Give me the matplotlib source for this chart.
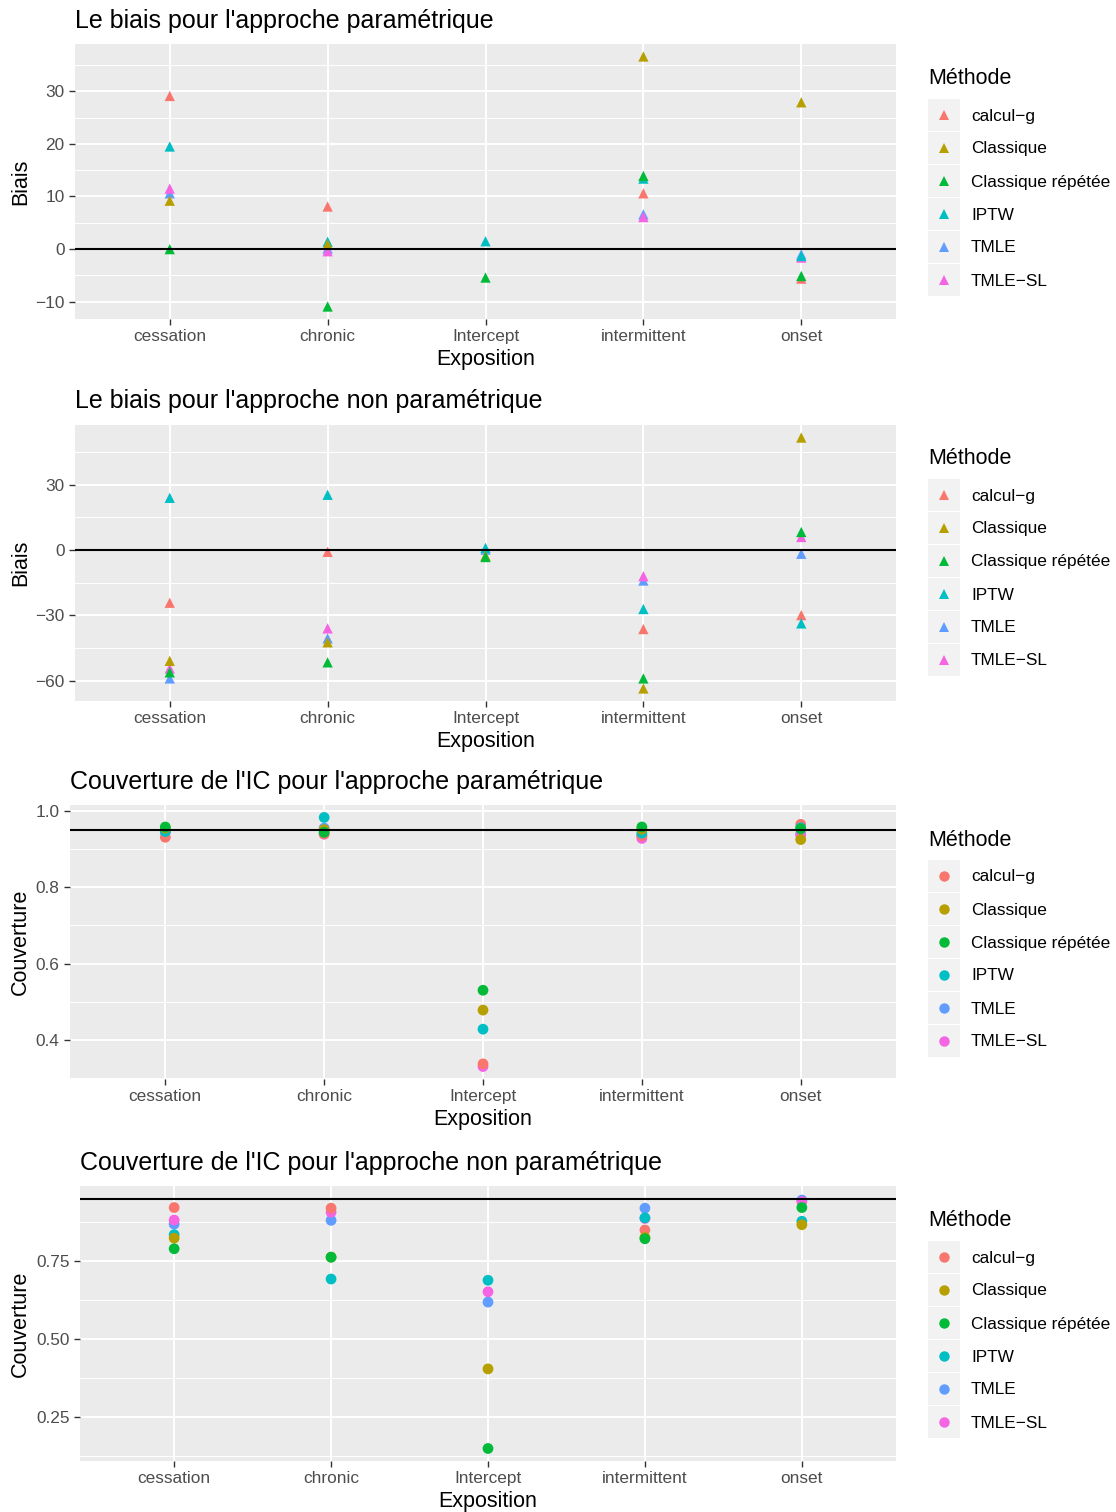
import numpy as np
import matplotlib
matplotlib.use("Agg")
import matplotlib.pyplot as plt
from matplotlib.lines import Line2D
from matplotlib.patches import Rectangle

plt.rcParams['font.family'] = ['Liberation Sans', 'DejaVu Sans']

categories = ["cessation", "chronic", "Intercept", "intermittent", "onset"]
methods = ["calcul\u2212g", "Classique", "Classique répétée", "IPTW", "TMLE", "TMLE\u2212SL"]
colors = ["#F8766D", "#B79F00", "#00BA38", "#00BFC4", "#619CFF", "#F564E3"]
nan = np.nan

# Panel 1: bias, parametric
bias_param_calculg = [29.1, 8.1, nan, 10.6, -5.6]
bias_param_classique = [9.2, 0.9, nan, 36.6, 27.9]
bias_param_classrep = [0.0, -10.9, -5.4, 13.9, -5.1]
bias_param_iptw = [19.5, 1.4, 1.5, 13.4, -1.3]
bias_param_tmle = [10.6, 0.1, nan, 6.6, -1.0]
bias_param_tmlesl = [11.5, -0.4, nan, 6.1, -1.6]

# Panel 2: bias, non-parametric
bias_np_calculg = [-24.2, -0.8, nan, -36.3, -29.9]
bias_np_classique = [-50.9, -42.4, -2.6, -63.6, 51.7]
bias_np_classrep = [-56.2, -51.6, -3.2, -59.0, 8.3]
bias_np_iptw = [24.0, 25.4, 1.0, -27.1, -33.7]
bias_np_tmle = [-59.0, -40.6, 0.2, -14.0, -1.7]
bias_np_tmlesl = [-54.4, -36.0, nan, -12.0, 6.0]

# Panel 3: coverage, parametric
cov_param_calculg = [0.931, 0.940, 0.337, 0.935, 0.965]
cov_param_classique = [0.955, 0.951, 0.478, 0.952, 0.925]
cov_param_classrep = [0.958, 0.944, 0.530, 0.958, 0.953]
cov_param_iptw = [0.946, 0.983, 0.428, 0.942, 0.956]
cov_param_tmle = [0.945, 0.955, nan, 0.935, 0.940]
cov_param_tmlesl = [0.945, 0.939, 0.330, 0.928, 0.937]

# Panel 4: coverage, non-parametric
cov_np_calculg = [0.921, 0.919, nan, 0.849, nan]
cov_np_classique = [0.823, 0.762, 0.404, 0.825, 0.866]
cov_np_classrep = [0.789, 0.762, 0.149, 0.821, 0.921]
cov_np_iptw = [0.834, 0.692, 0.688, 0.888, 0.877]
cov_np_tmle = [0.868, 0.880, 0.618, 0.919, 0.945]
cov_np_tmlesl = [0.881, 0.906, 0.651, 0.886, 0.940]

# drawing order of methods (indices into methods)
draw_order = [4, 5, 0, 3, 1, 2]

titles = ["Le biais pour l'approche paramétrique",
          "Le biais pour l'approche non paramétrique",
          "Couverture de l'IC pour l'approche paramétrique",
          "Couverture de l'IC pour l'approche non paramétrique"]
ylabels = ["Biais", "Biais", "Couverture", "Couverture"]
hlines = [0.0, 0.0, 0.95, 0.95]
markers = ["^", "^", "o", "o"]
panel_data = [
    [bias_param_calculg, bias_param_classique, bias_param_classrep, bias_param_iptw, bias_param_tmle, bias_param_tmlesl],
    [bias_np_calculg, bias_np_classique, bias_np_classrep, bias_np_iptw, bias_np_tmle, bias_np_tmlesl],
    [cov_param_calculg, cov_param_classique, cov_param_classrep, cov_param_iptw, cov_param_tmle, cov_param_tmlesl],
    [cov_np_calculg, cov_np_classique, cov_np_classrep, cov_np_iptw, cov_np_tmle, cov_np_tmlesl],
]
major_ticks = [[-10, 0, 10, 20, 30], [-60, -30, 0, 30], [0.4, 0.6, 0.8, 1.0], [0.25, 0.5, 0.75]]
tick_fmt = ["{:.0f}", "{:.0f}", "{:.1f}", "{:.2f}"]

W, H = 1116, 1512
fig = plt.figure(figsize=(W / 100, H / 100), dpi=100)

# panel boxes in pixels: left, top, right, bottom
boxes = [(75, 44, 896, 319), (75, 425, 896, 701), (70, 805, 896, 1079), (80, 1186, 896, 1461)]
title_y = [21, 401, 782, 1163]
legend_offset = [0, 380, 761, 1142]

def fx(x):
    return x / W

def fy(y):
    return 1 - y / H

for i in range(4):
    l, t, r, b = boxes[i]
    ax = fig.add_axes([fx(l), fy(b), fx(r) - fx(l), fy(t) - fy(b)])
    ax.set_facecolor("#EBEBEB")
    for s in ax.spines.values():
        s.set_visible(False)
    data = panel_data[i]
    allv = np.concatenate([np.array(d, dtype=float) for d in data] + [np.array([hlines[i]])])
    lo, hi = np.nanmin(allv), np.nanmax(allv)
    pad = 0.05 * (hi - lo)
    ax.set_ylim(lo - pad, hi + pad)
    ax.set_xlim(-0.6, len(categories) - 0.4)
    xs = np.arange(len(categories))
    # grid
    mt = major_ticks[i]
    step = mt[1] - mt[0]
    minors = np.arange(mt[0] - step / 2, hi + pad + step, step)
    for m in minors:
        ax.axhline(m, color="white", lw=0.7, zorder=0.5)
    for m in mt:
        ax.axhline(m, color="white", lw=1.4, zorder=0.6)
    for xx in xs:
        ax.axvline(xx, color="white", lw=1.4, zorder=0.6)
    for k in draw_order:
        ax.scatter(xs, data[k], marker=markers[i], s=55 if markers[i] == "^" else 60,
                   color=colors[k], edgecolors="none", zorder=3)
    ax.axhline(hlines[i], color="black", lw=1.5, zorder=4)
    ax.set_yticks(mt)
    ax.set_yticklabels([tick_fmt[i].format(v).replace("-", "\u2212") for v in mt])
    ax.set_xticks(xs)
    ax.set_xticklabels(categories)
    ax.tick_params(axis="both", colors="#333333", labelcolor="#4D4D4D", labelsize=12.4,
                   length=4, width=1.0, pad=3.5)
    ax.set_xlabel("Exposition", fontsize=15.5, labelpad=3.5)
    ax.set_ylabel(ylabels[i], fontsize=15.5)
    ax.yaxis.set_label_coords(fx(31), fy((t + b) / 2), transform=fig.transFigure)
    fig.text(fx(l), fy(title_y[i]), titles[i], fontsize=18, ha="left", va="center")

    # legend
    off = legend_offset[i]
    fig.text(fx(928), fy(79 + off), "Méthode", fontsize=15.5, ha="left", va="center")
    for k in range(len(methods)):
        cy = 115 + 33 * k + off
        fig.add_artist(Rectangle((fx(928), fy(cy + 16)), fx(32), 32 / H,
                                 transform=fig.transFigure, facecolor="#F2F2F2", edgecolor="none"))
        fig.add_artist(Line2D([fx(944)], [fy(cy)], marker=markers[i], markersize=7 if markers[i] == "^" else 7.5,
                              color=colors[k], linestyle="none", markeredgewidth=0,
                              transform=fig.transFigure))
        fig.text(fx(971), fy(cy + 1), methods[k], fontsize=12.4, ha="left", va="center")

fig.savefig("out.png", dpi=100)
